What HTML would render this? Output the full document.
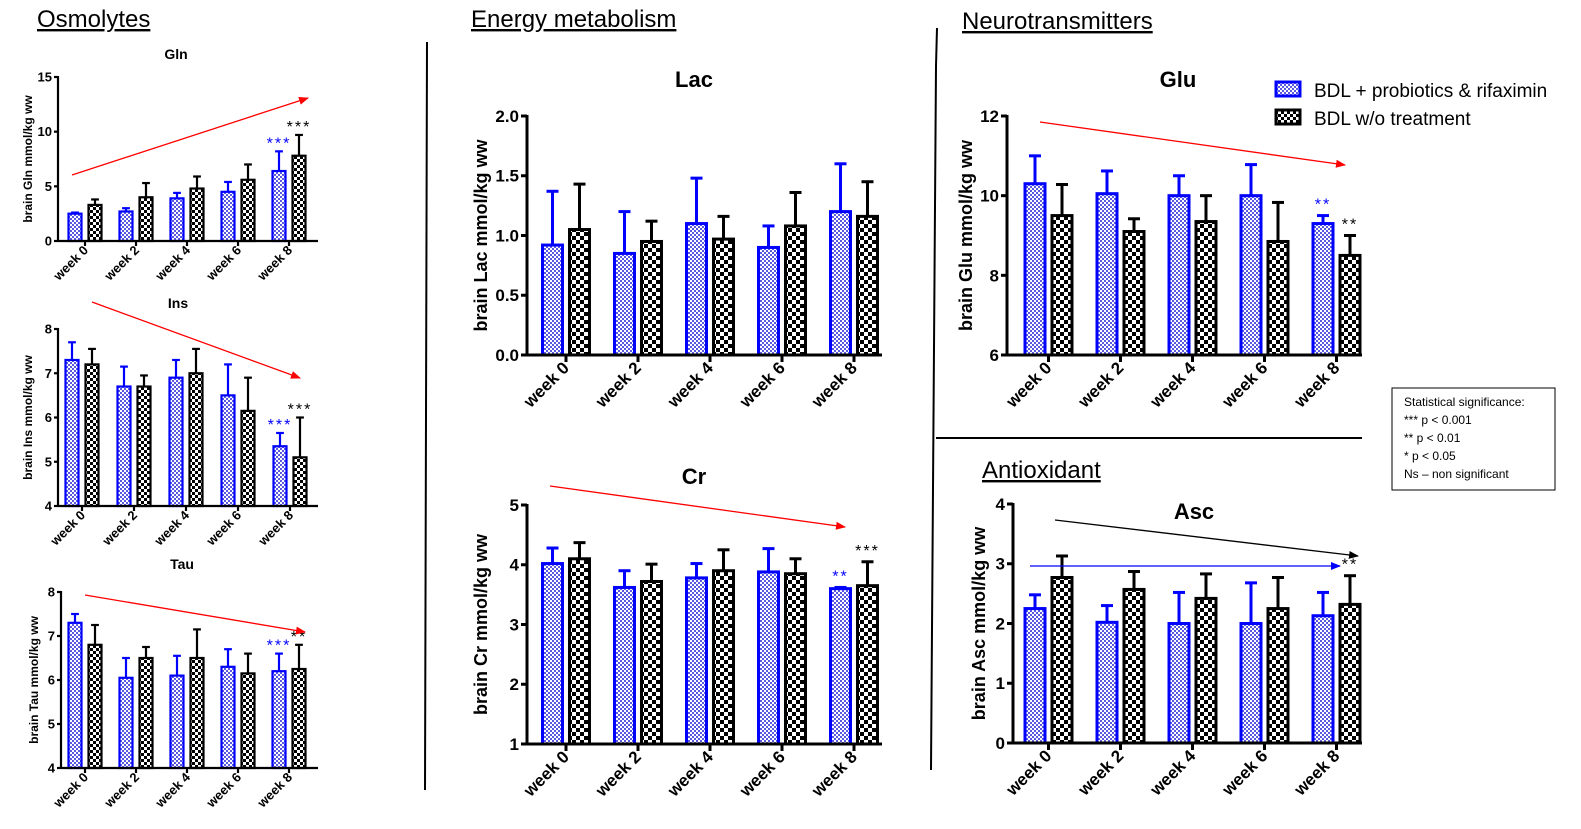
<!DOCTYPE html>
<html><head><meta charset="utf-8"><style>
body{margin:0;background:#fff;}
svg{display:block;font-family:"Liberation Sans",Arial,sans-serif;}
</style></head><body>
<svg id="fig" width="1581" height="829" viewBox="0 0 1581 829" xmlns="http://www.w3.org/2000/svg">
<defs>
<pattern id="pb" width="4" height="4" patternUnits="userSpaceOnUse"><rect width="4" height="4" fill="#fff"/><rect width="2" height="2" fill="#5a5ae0"/><rect x="2" y="2" width="2" height="2" fill="#5a5ae0"/></pattern>
<pattern id="pk" width="8" height="8" patternUnits="userSpaceOnUse"><rect width="8" height="8" fill="#fff"/><rect width="4" height="4" fill="#000"/><rect x="4" y="4" width="4" height="4" fill="#000"/></pattern>
<pattern id="pks" width="6" height="6" patternUnits="userSpaceOnUse"><rect width="6" height="6" fill="#fff"/><rect width="3" height="3" fill="#000"/><rect x="3" y="3" width="3" height="3" fill="#000"/></pattern>
<marker id="ar" markerWidth="10" markerHeight="8" refX="9" refY="4" orient="auto" markerUnits="userSpaceOnUse"><path d="M0,0 L10,4 L0,8z" fill="red"/></marker>
<marker id="ak" markerWidth="10" markerHeight="8" refX="9" refY="4" orient="auto" markerUnits="userSpaceOnUse"><path d="M0,0 L10,4 L0,8z" fill="#000"/></marker>
<marker id="ab" markerWidth="10" markerHeight="8" refX="9" refY="4" orient="auto" markerUnits="userSpaceOnUse"><path d="M0,0 L10,4 L0,8z" fill="#00f"/></marker>
</defs>
<g font-size="24" text-decoration="underline">
<text x="37" y="27">Osmolytes</text>
<text x="471" y="27">Energy metabolism</text>
<text x="962" y="29">Neurotransmitters</text>
<text x="982" y="478">Antioxidant</text>
</g>
<g stroke="#000" stroke-width="2" fill="none">
<line x1="427" y1="42" x2="425" y2="790"/>
<line x1="937" y1="28" x2="936" y2="66"/>
<line x1="936" y1="66" x2="931" y2="770"/>
<line x1="936" y1="438" x2="1362" y2="438"/>
</g>
<g>
<rect x="1276" y="82" width="24" height="14" fill="url(#pb)" stroke="#00f" stroke-width="3"/>
<text x="1314" y="97" font-size="19">BDL + probiotics &amp; rifaximin</text>
<rect x="1276" y="110" width="24" height="14" fill="url(#pks)" stroke="#000" stroke-width="3"/>
<text x="1314" y="125" font-size="19">BDL w/o treatment</text>
</g>
<g>
<rect x="1392" y="388" width="163" height="102" fill="#fff" stroke="#000" stroke-width="1"/>
<g font-size="12"><text x="1404" y="406">Statistical significance:</text>
<text x="1404" y="424">*** p &lt; 0.001</text><text x="1404" y="442">**   p &lt; 0.01</text>
<text x="1404" y="460">*     p &lt; 0.05</text><text x="1404" y="478">Ns – non significant</text></g>
</g>
<g id="charts"></g>
<g stroke-width="1.3">
<line x1="72" y1="175" x2="308" y2="98" stroke="red" marker-end="url(#ar)"/>
<line x1="92" y1="302" x2="300" y2="378" stroke="red" marker-end="url(#ar)"/>
<line x1="85" y1="595" x2="305" y2="632" stroke="red" marker-end="url(#ar)"/>
<line x1="550" y1="486" x2="845" y2="527" stroke="red" marker-end="url(#ar)"/>
<line x1="1040" y1="122" x2="1345" y2="165" stroke="red" marker-end="url(#ar)"/>
<line x1="1055" y1="520" x2="1358" y2="556" stroke="#000" marker-end="url(#ak)"/>
<line x1="1030" y1="566" x2="1340" y2="566" stroke="#00f" marker-end="url(#ab)"/>
</g>
</svg>
<script>
const categories=["week 0","week 2","week 4","week 6","week 8"];
const glnBlue=[2.5,2.7,3.9,4.5,6.4], glnBlueErr=[2.6,3.0,4.4,5.4,8.2];
const glnBlack=[3.3,4.0,4.8,5.6,7.8], glnBlackErr=[3.8,5.3,5.9,7.0,9.7];
const insBlue=[7.3,6.7,6.9,6.5,5.35], insBlueErr=[7.7,7.15,7.3,7.2,5.65];
const insBlack=[7.2,6.7,7.0,6.15,5.1], insBlackErr=[7.55,6.95,7.55,6.9,6.0];
const tauBlue=[7.3,6.05,6.1,6.3,6.2], tauBlueErr=[7.5,6.5,6.55,6.7,6.6];
const tauBlack=[6.8,6.5,6.5,6.15,6.25], tauBlackErr=[7.25,6.75,7.15,6.6,6.8];
const lacBlue=[0.92,0.85,1.1,0.9,1.2], lacBlueErr=[1.37,1.2,1.48,1.08,1.6];
const lacBlack=[1.05,0.95,0.97,1.08,1.16], lacBlackErr=[1.43,1.12,1.16,1.36,1.45];
const crBlue=[4.02,3.62,3.78,3.88,3.6], crBlueErr=[4.28,3.9,4.02,4.27,3.62];
const crBlack=[4.1,3.72,3.9,3.85,3.65], crBlackErr=[4.37,4.01,4.25,4.1,4.05];
const gluBlue=[10.3,10.05,10.0,10.0,9.3], gluBlueErr=[11.0,10.62,10.5,10.78,9.5];
const gluBlack=[9.5,9.1,9.35,8.85,8.5], gluBlackErr=[10.28,9.42,10.0,9.83,9.0];
const ascBlue=[2.25,2.02,2.0,2.0,2.13], ascBlueErr=[2.48,2.3,2.52,2.68,2.52];
const ascBlack=[2.77,2.57,2.42,2.25,2.32], ascBlackErr=[3.13,2.87,2.83,2.77,2.8];
const glnTicks=[0,5,10,15], insTicks=[4,5,6,7,8], tauTicks=[4,5,6,7,8];
const lacTicks=["0.0","0.5","1.0","1.5","2.0"], crTicks=[1,2,3,4,5], gluTicks=[6,8,10,12], ascTicks=[0,1,2,3,4];

const NS="http://www.w3.org/2000/svg";
const root=document.getElementById('charts');
function el(tag,attrs,parent,txt){const e=document.createElementNS(NS,tag);for(const k in attrs)e.setAttribute(k,attrs[k]);if(txt!==undefined)e.textContent=txt;parent.appendChild(e);return e;}

function chart(c){
  const g=el('g',{},root);
  
  
  const ticks=c.ticks.map(Number);
  const ymin=ticks[0],ymax=ticks[ticks.length-1];
  const y=v=>c.y0-(v-ymin)/(ymax-ymin)*(c.y0-c.y1);
  const gx=i=>c.gx0+i*c.gs;
  const big=c.big, fs=big?17:13, sw=big?3:2.2;
  const t=el('text',{x:c.tx,y:c.ty,'font-size':big?22:14,'font-weight':'bold','text-anchor':'middle'},g,c.title);
  
  
  const yl=el('text',{transform:`translate(${c.ylx},${(c.y0+c.y1)/2}) rotate(-90)`,'font-size':big?18:12,'font-weight':'bold','text-anchor':'middle'},g,c.ylabel);
  
  
  const series=[[c.b,c.be,'url(#pb)','#00f',-1],[c.k,c.ke,big?'url(#pk)':'url(#pks)','#000',1]];
  series.forEach(([vals,errs,fill,col,side],si)=>{
    vals.forEach((v,i)=>{
      const cx=gx(i)+side*c.off, top=y(v), et=y(errs[i]);
      const ln=el('line',{x1:cx,y1:top,x2:cx,y2:et,stroke:col,'stroke-width':sw},g);
      
      
      const cap=el('line',{x1:cx-c.bw*0.3,y1:et,x2:cx+c.bw*0.3,y2:et,stroke:col,'stroke-width':sw},g);
      
      
      const r=el('rect',{x:cx-c.bw/2,y:top,width:c.bw,height:c.y0-top,fill:fill,stroke:col,'stroke-width':sw},g);
      
      
    });
  });
  const ya=el('line',{x1:c.ax,y1:c.y1-1,x2:c.ax,y2:c.y0,stroke:'#000','stroke-width':sw},g);
  
  
  const xa=el('line',{x1:c.ax,y1:c.y0,x2:c.xr,y2:c.y0,stroke:'#000','stroke-width':sw},g);
  
  
  c.ticks.forEach(tk=>{
    const yy=y(Number(tk));
    el('line',{x1:c.ax-(big?6:4),y1:yy,x2:c.ax,y2:yy,stroke:'#000','stroke-width':sw},g);
    const tl=el('text',{x:c.ax-(big?8:6),y:yy+fs*0.35,'font-size':fs,'font-weight':'bold','text-anchor':'end'},g,String(tk));
    
    
  });
  categories.forEach((cat,i)=>{
    const xx=gx(i);
    el('line',{x1:xx,y1:c.y0,x2:xx,y2:c.y0+(big?7:5),stroke:'#000','stroke-width':sw},g);
    const tl=el('text',{transform:`translate(${xx+4},${c.y0+(big?14:10)}) rotate(-45)`,'font-size':fs,'font-weight':'bold','text-anchor':'end'},g,cat);
    
    
  });
  (c.stars||[]).forEach(([txt,col,side,v])=>{
    const s=el('text',{x:gx(4)+side*c.off,y:y(v)-(big?6:3),'font-size':16,fill:col,'text-anchor':'middle','letter-spacing':'2'},g,txt);
    
    
  });
}
chart({name:'gln',title:'Gln',tx:176,ty:59,ylabel:'brain Gln mmol/kg ww',ylx:32,ticks:glnTicks,y0:241,y1:77,ax:58,xr:318,gx0:85,gs:51,off:10,bw:13,b:glnBlue,be:glnBlueErr,k:glnBlack,ke:glnBlackErr,stars:[['***','#00f',-1,glnBlueErr[4]],['***','#000',1,glnBlackErr[4]]]});
chart({name:'ins',title:'Ins',tx:178,ty:308,ylabel:'brain Ins mmol/kg ww',ylx:32,ticks:insTicks,y0:506,y1:329,ax:58,xr:318,gx0:82,gs:52,off:10,bw:13,b:insBlue,be:insBlueErr,k:insBlack,ke:insBlackErr,stars:[['***','#00f',-1,insBlueErr[4]],['***','#000',1,insBlackErr[4]]]});
chart({name:'tau',title:'Tau',tx:182,ty:569,ylabel:'brain Tau mmol/kg ww',ylx:38,ticks:tauTicks,y0:768,y1:592,ax:61,xr:318,gx0:85,gs:51,off:10,bw:13,b:tauBlue,be:tauBlueErr,k:tauBlack,ke:tauBlackErr,stars:[['***','#00f',-1,tauBlueErr[4]],['**','#000',1,tauBlackErr[4]]]});
chart({name:'lac',title:'Lac',tx:694,ty:87,ylabel:'brain Lac mmol/kg ww',ylx:487,ticks:lacTicks,y0:355,y1:116,ax:527,xr:882,gx0:566,gs:72,off:13.5,bw:20,big:1,b:lacBlue,be:lacBlueErr,k:lacBlack,ke:lacBlackErr});
chart({name:'cr',title:'Cr',tx:694,ty:484,ylabel:'brain Cr mmol/kg ww',ylx:487,ticks:crTicks,y0:744,y1:505,ax:527,xr:882,gx0:566,gs:72,off:13.5,bw:20,big:1,b:crBlue,be:crBlueErr,k:crBlack,ke:crBlackErr,stars:[['**','#00f',-1,crBlueErr[4]],['***','#000',1,crBlackErr[4]]]});
chart({name:'glu',title:'Glu',tx:1178,ty:87,ylabel:'brain Glu mmol/kg ww',ylx:972,ticks:gluTicks,y0:355,y1:116,ax:1007,xr:1362,gx0:1048.5,gs:72,off:13.5,bw:20,big:1,b:gluBlue,be:gluBlueErr,k:gluBlack,ke:gluBlackErr,stars:[['**','#00f',-1,gluBlueErr[4]],['**','#000',1,gluBlackErr[4]]]});
chart({name:'asc',title:'Asc',tx:1194,ty:519,ylabel:'brain Asc mmol/kg ww',ylx:985,ticks:ascTicks,y0:743,y1:504,ax:1013,xr:1362,gx0:1048.5,gs:72,off:13.5,bw:20,big:1,b:ascBlue,be:ascBlueErr,k:ascBlack,ke:ascBlackErr,stars:[['**','#000',1,ascBlackErr[4]]]});
</script>
</body></html>
